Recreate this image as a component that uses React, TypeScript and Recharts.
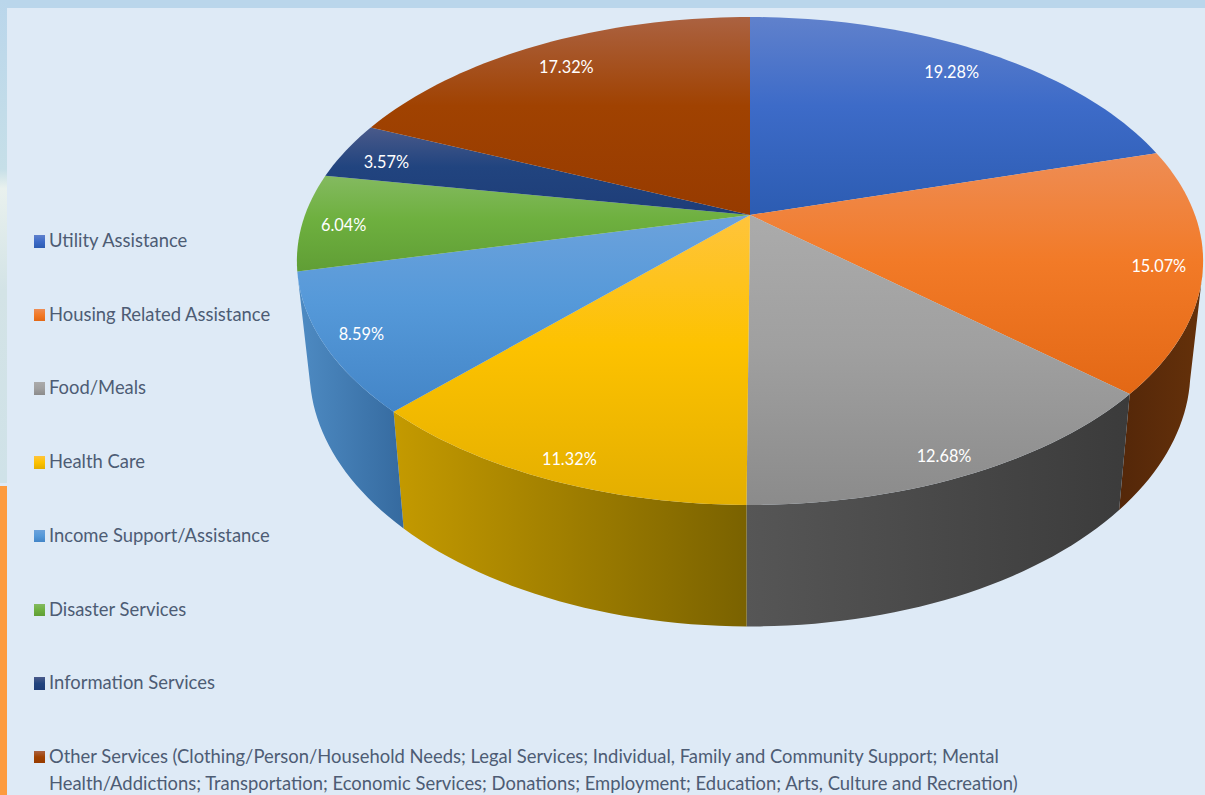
import React from "react";
import { PieChart, Pie, Legend } from "recharts";

const categories = [
  "Utility Assistance",
  "Housing Related Assistance",
  "Food/Meals",
  "Health Care",
  "Income Support/Assistance",
  "Disaster Services",
  "Information Services",
  "Other Services (Clothing/Person/Household Needs; Legal Services; Individual, Family and Community Support; Mental Health/Addictions; Transportation; Economic Services; Donations; Employment; Education; Arts, Culture and Recreation)",
];
const shares = [19.28, 15.07, 12.68, 11.32, 8.59, 6.04, 3.57, 17.32];

const topStops = [
  ["#6081cc", "#3d6bc8", "#2c5cb2"],
  ["#ee8d55", "#f27a27", "#e36815"],
  ["#ababab", "#a0a0a0", "#8b8b8b"],
  ["#ffc43c", "#fdc200", "#e3ae00"],
  ["#6ca2dc", "#5599d9", "#4385c7"],
  ["#84ba60", "#6eb03f", "#609e35"],
  ["#4a5a8a", "#21447f", "#1e3d78"],
  ["#ab6241", "#a04201", "#973b00"],
];
const wallStops = [
  ["#2c5cb2", "#1f4585"],
  ["#542709", "#65310a"],
  ["#565656", "#3b3b3b"],
  ["#c49a00", "#7a6200"],
  ["#4e8bc3", "#356a9f"],
  ["#5c9436", "#4a7a2a"],
  ["#1e3d78", "#152c58"],
  ["#973b00", "#6e2b00"],
];
const labelFractions = [0.85, 0.9, 0.93, 0.93, 0.9, 0.92, 0.9, 0.85];
const labelNudgeX = [0, 3, -6, 5, -9, 5, 2, -1];
const labelNudgeY = [-2, 1, 2, 1, 3, 3, 4, -1];
const chartData = categories.map((name, i) => ({ name, value: shares[i] }));

const CX = 750;
const CY = 215;
const RX = 445;
const RY = 235.3;
const PERSPECTIVE = 0.1885;
const FONT = "Lato, 'Open Sans', sans-serif";

// Perspective view of a disc: angle measured clockwise from 12 o'clock.
function project(theta: number, f = 1) {
  const t = (theta * Math.PI) / 180;
  const u = f * Math.sin(t);
  const v = -f * Math.cos(t);
  const w = 1 - PERSPECTIVE * v;
  return { x: CX + (RX * u) / w, y: CY + (RY * v) / w };
}
function projectBottom(theta: number) {
  const p = project(theta);
  return { x: CX + 0.972 * (p.x - CX), y: CY + 107 + 1.05 * (p.y - CY) };
}
function arcPoints(a: number, b: number, fn: (t: number) => { x: number; y: number }) {
  const n = Math.max(2, Math.ceil(Math.abs(b - a) / 1.5));
  const pts = [];
  for (let i = 0; i <= n; i++) pts.push(fn(a + ((b - a) * i) / n));
  return pts;
}
const toPath = (pts: { x: number; y: number }[]) =>
  pts.map((p, i) => `${i ? "L" : "M"}${p.x.toFixed(2)} ${p.y.toFixed(2)}`).join(" ") + " Z";

function sweep(props: any) {
  const a = 90 - props.startAngle;
  const b = 90 - props.endAngle;
  return [Math.min(a, b), Math.max(a, b)];
}
const indexOfName = (name: string) => categories.indexOf(name);

function TopShape(props: any) {
  const [a, b] = sweep(props);
  const i = indexOfName(props.name ?? props.payload?.name);
  const pts = [{ x: CX, y: CY }, ...arcPoints(a, b, (t) => project(t))];
  return <path d={toPath(pts)} fill={`url(#top-${i})`} stroke="none" />;
}
function WallShape(props: any) {
  const [a0, b0] = sweep(props);
  const a = Math.max(a0, 103);
  const b = Math.min(b0, 256);
  if (b <= a) return null;
  const i = indexOfName(props.name ?? props.payload?.name);
  const pts = [
    ...arcPoints(a, b, (t) => project(t)),
    ...arcPoints(b, a, (t) => projectBottom(t)),
  ];
  return <path d={toPath(pts)} fill={`url(#wall-${i})`} stroke="none" />;
}
function SliceLabel(props: any) {
  const i = props.index;
  const p = project(90 - props.midAngle, labelFractions[i]);
  const x = p.x + labelNudgeX[i];
  const y = p.y + labelNudgeY[i];
  return (
    <text
      transform={`translate(${x} ${y}) scale(0.96 1.06)`}
      fill="#ffffff"
      fontSize={17}
      fontFamily={FONT}
      textAnchor="middle"
      dominantBaseline="central"
    >
      {`${shares[i].toFixed(2)}%`}
    </text>
  );
}
function LegendBox(props: any) {
  const seen = new Set((props.payload ?? []).map((it: any) => it.value));
  const items = categories.filter((c) => seen.has(c));
  return (
    <div style={{ position: "relative", width: 1205, height: 795, fontFamily: FONT, color: "#4d5c74", fontSize: 20 }}>
      {items.map((name, i) => (
        <div key={name} style={{ position: "absolute", left: 0, top: 240 + i * 73.7 - 12 }}>
          <span
            style={{
              position: "absolute",
              left: 34,
              top: 7,
              width: 10.5,
              height: 12.5,
              background: `linear-gradient(${topStops[i][0]}, ${topStops[i][1]} 50%, ${topStops[i][2]})`,
            }}
          />
          <div
            style={{
              marginLeft: 49,
              width: 1078,
              lineHeight: "27.5px",
              marginTop: -2,
              transform: "scaleX(0.92)",
              transformOrigin: "left top",
            }}
          >
            {name}
          </div>
        </div>
      ))}
    </div>
  );
}

export default function App() {
  return (
    <div style={{ position: "fixed", left: 0, top: 0, width: 1205, height: 795, overflow: "hidden", background: "#deeaf6" }}>
      <div style={{ position: "absolute", left: 0, top: 0, width: 1205, height: 8, background: "#bad6eb" }} />
      <div
        style={{
          position: "absolute",
          left: 0,
          top: 0,
          width: 7,
          height: 483,
          background: "linear-gradient(#bad6eb 0%, #c6dfe8 35%, #e9f1ee 39%, #d3e3e6 60%, #cfe2e8 100%)",
        }}
      />
      <div style={{ position: "absolute", left: 0, top: 486, width: 7, height: 309, background: "#fd9b3e" }} />
      <PieChart width={1205} height={795} margin={{ top: 0, right: 0, bottom: 0, left: 0 }}>
        <defs>
          {topStops.map((s, i) => (
            <linearGradient key={i} id={`top-${i}`} x1="0" y1="0" x2="0" y2="1">
              <stop offset="0%" stopColor={s[0]} />
              <stop offset="45%" stopColor={s[1]} />
              <stop offset="100%" stopColor={s[2]} />
            </linearGradient>
          ))}
          {wallStops.map((s, i) => (
            <linearGradient key={i} id={`wall-${i}`} x1="0" y1="0" x2="1" y2="0">
              <stop offset="0%" stopColor={s[0]} />
              <stop offset="100%" stopColor={s[1]} />
            </linearGradient>
          ))}
        </defs>
        <Pie
          data={chartData}
          dataKey="value"
          nameKey="name"
          cx={CX}
          cy={CY}
          outerRadius={RX}
          startAngle={90}
          endAngle={-270}
          isAnimationActive={false}
          legendType="none"
          shape={WallShape}
          label={false}
          labelLine={false}
        />
        <Pie
          data={chartData}
          dataKey="value"
          nameKey="name"
          cx={CX}
          cy={CY}
          outerRadius={RX}
          startAngle={90}
          endAngle={-270}
          isAnimationActive={false}
          shape={TopShape}
          label={SliceLabel}
          labelLine={false}
        />
        <Legend content={LegendBox} wrapperStyle={{ position: "absolute", left: 0, top: 0, width: 1205, height: 795 }} />
      </PieChart>
    </div>
  );
}
